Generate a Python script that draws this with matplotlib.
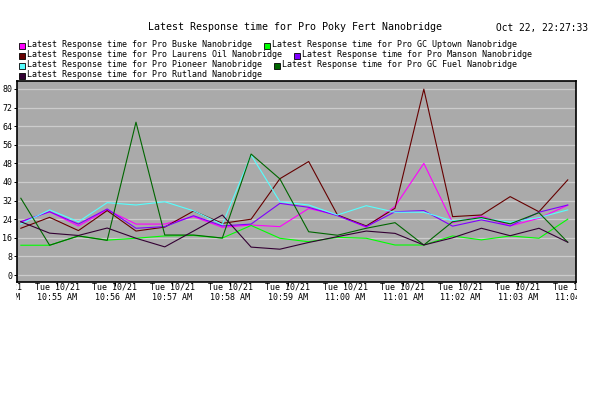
from __future__ import annotations

import matplotlib

matplotlib.use("Agg")
import matplotlib.dates as mdates
import matplotlib.pyplot as plt
import pandas as pd
from matplotlib.patches import Rectangle
from matplotlib.transforms import Bbox, TransformedBbox, blended_transform_factory


TITLE = "Latest Response time for Pro Poky Fert Nanobridge"
STAMP = "Oct 22, 22:27:33"

# one sample every 30 seconds
TIMES = pd.date_range("2025-10-21 10:54:22", periods=20, freq="30s")
TICK_MINUTES = pd.date_range("2025-10-21 10:54:00", "2025-10-21 11:04:00", freq="1min")

SERIES_NAMES = [
    "Latest Response time for Pro Buske Nanobridge",
    "Latest Response time for Pro GC Uptown Nanobridge",
    "Latest Response time for Pro Laurens Oil Nanobridge",
    "Latest Response time for Pro Manson Nanobridge",
    "Latest Response time for Pro Pioneer Nanobridge",
    "Latest Response time for Pro GC Fuel Nanobridge",
    "Latest Response time for Pro Rutland Nanobridge",
]
SERIES_COLORS = ["#ff00ff", "#00ff00", "#660000", "#7f00ff", "#55ffff", "#006600", "#330033"]

buske = [22.9, 27.2, 21.1, 28.0, 21.9, 21.9, 25.1, 20.5, 21.5, 20.8,
         28.6, 25.8, 20.5, 29.5, 48.0, 22.5, 25.4, 21.1, 24.4, 30.0]
gc_uptown = [12.8, 12.8, 16.8, 15.0, 15.8, 16.8, 17.0, 15.9, 21.3, 15.8,
             14.3, 16.2, 15.8, 12.9, 12.9, 16.8, 15.1, 16.8, 15.8, 24.0]
laurens_oil = [20.1, 24.8, 19.1, 27.7, 18.9, 20.6, 27.5, 22.2, 24.0, 41.4,
               48.8, 25.8, 21.1, 28.7, 79.9, 25.1, 25.8, 33.7, 27.2, 40.9]
manson = [22.9, 27.2, 21.9, 28.4, 20.1, 20.8, 25.5, 21.1, 21.9, 30.8,
          29.1, 25.5, 20.8, 27.2, 27.7, 21.0, 23.7, 21.1, 27.0, 30.1]
pioneer = [21.9, 28.0, 22.9, 31.1, 30.1, 31.5, 27.6, 21.7, 51.6, 31.5,
           30.1, 25.8, 29.8, 27.0, 27.0, 23.3, 24.4, 22.7, 24.7, 28.0]
gc_fuel = [33.0, 12.8, 16.8, 14.9, 65.7, 17.2, 17.2, 15.9, 52.0, 41.3,
           18.6, 17.1, 20.1, 22.5, 12.9, 22.9, 24.7, 22.0, 26.8, 14.1]
rutland = [22.9, 18.0, 17.0, 20.2, 15.8, 12.1, 18.9, 25.8, 12.0, 11.1,
           14.0, 16.5, 18.9, 17.9, 12.9, 16.0, 20.1, 16.9, 20.1, 14.1]

SERIES_VALUES = [buske, gc_uptown, laurens_oil, manson, pioneer, gc_fuel, rutland]
Y_TICKS = list(range(0, 81, 8))

W, H = 616, 393
FONT = "DejaVu Sans Mono"
SMALL = 6.05


def fx(px: float) -> float:
    return px / W


def fy(px: float) -> float:
    return 1 - px / H


def draw_legend(fig) -> None:
    rows = [(0, 1), (2, 3), (4, 5), (6,)]
    renderer = fig.canvas.get_renderer()
    for r, row in enumerate(rows):
        base = 47.3 + 10 * r
        x = 18.7
        for idx in row:
            fig.add_artist(Rectangle(
                (fx(x), fy(base + 2.0)), 6 / W, 6 / H,
                transform=fig.transFigure, facecolor=SERIES_COLORS[idx],
                edgecolor="black", linewidth=0.6,
            ))
            t = fig.text(fx(x + 8), fy(base), SERIES_NAMES[idx], family=FONT,
                         fontsize=SMALL, va="baseline", ha="left")
            ext = t.get_window_extent(renderer)
            x = ext.x1 + 12


def main() -> None:
    fig = plt.figure(figsize=(W / 100, H / 100), dpi=100)
    ax = fig.add_axes([fx(17), fy(282), (576 - 17) / W, (282 - 81) / H])
    ax.set_facecolor("#aaaaaa")

    for vals, color in zip(SERIES_VALUES, SERIES_COLORS):
        ax.plot(TIMES, vals, color=color, linewidth=0.8)

    ax.set_xlim(pd.Timestamp("2025-10-21 10:54:18"), pd.Timestamp("2025-10-21 11:04:00.6"))
    ax.set_ylim(-3.0, 83.4)

    ax.set_yticks(Y_TICKS)
    ax.set_yticklabels([str(v) for v in Y_TICKS], family=FONT, fontsize=SMALL)
    ax.set_xticks(mdates.date2num(TICK_MINUTES[1:-1]))
    ax.set_xticklabels([])
    ax.tick_params(axis="y", length=2, width=0.7, pad=1.5)
    ax.tick_params(axis="x", length=3, width=0.7)
    ax.yaxis.grid(True, color="#cccccc", linewidth=0.9)
    ax.set_axisbelow(True)
    for spine in ax.spines.values():
        spine.set_linewidth(1.2)

    # two-line time labels, clipped to the horizontal span of the plot
    trans = blended_transform_factory(ax.transData, fig.transFigure)
    clip = TransformedBbox(Bbox([[fx(16), 0], [fx(577), 1]]), fig.transFigure)
    for ts in TICK_MINUTES:
        xpos = mdates.date2num(ts)
        for text, ypx in ((ts.strftime("%a %m/%d"), 287), (ts.strftime("%I:%M %p"), 297)):
            t = fig.text(xpos, fy(ypx), text, transform=trans, family=FONT,
                         fontsize=SMALL, ha="center", va="center")
            t.set_clip_box(clip)
            t.set_clip_on(True)

    fig.text(fx(295), fy(27), TITLE, family=FONT, fontsize=7.2, ha="center", va="center")
    fig.text(fx(588), fy(28), STAMP, family=FONT, fontsize=6.9, ha="right", va="center")

    draw_legend(fig)

    fig.savefig("out.png", dpi=100, facecolor="white")
    plt.close(fig)


if __name__ == "__main__":
    main()
